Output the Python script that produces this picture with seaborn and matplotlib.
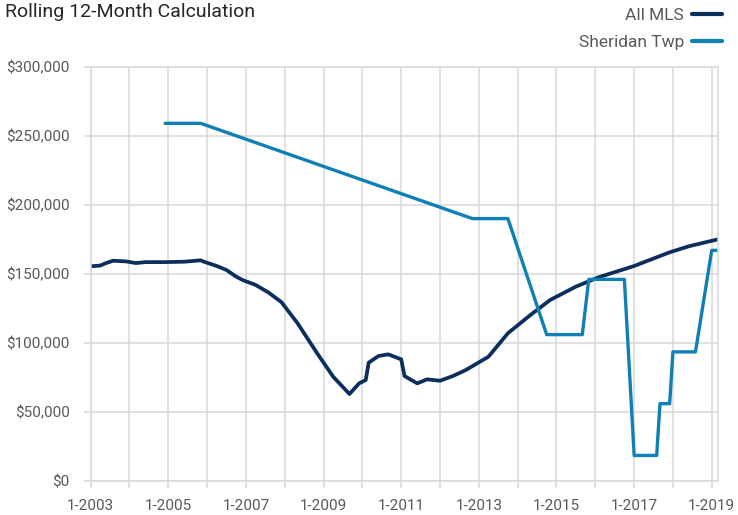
import seaborn as sns
import pandas as pd
import numpy as np
import matplotlib.pyplot as plt
import matplotlib.ticker as ticker

# All MLS rolling 12-month values
mls_dates = ["2003-01", "2003-04", "2003-06", "2003-08", "2003-12", "2004-03",
             "2004-06", "2004-12", "2005-06", "2005-11", "2005-12", "2006-04",
             "2006-07", "2006-10", "2006-12", "2007-04", "2007-08", "2007-12",
             "2008-05", "2008-08", "2008-11", "2009-04", "2009-09", "2009-12",
             "2010-02", "2010-03", "2010-06", "2010-09", "2011-01", "2011-02",
             "2011-06", "2011-09", "2012-01", "2012-05", "2012-09", "2013-04",
             "2013-10", "2014-05", "2014-11", "2015-07", "2016-02", "2017-01",
             "2017-12", "2018-06", "2019-03"]
mls_values = [155500, 156000, 158000, 159500, 159000, 157800,
              158500, 158500, 158800, 159800, 158800, 155700,
              152800, 148000, 145500, 142000, 136500, 129500,
              114200, 103300, 92500, 75500, 63000, 70700,
              73100, 85700, 90500, 91700, 88100, 76000,
              70700, 73600, 72600, 76000, 80400, 90000,
              107000, 120200, 131000, 140700, 147500, 155700,
              165600, 170000, 175000]

# Sheridan Twp
twp_dates = ["2004-12", "2005-11", "2012-11", "2013-10", "2014-10", "2015-09",
             "2015-11", "2016-10", "2017-01", "2017-08", "2017-09", "2017-12",
             "2018-01", "2018-08", "2019-01", "2019-03"]
twp_values = [259000, 259000, 190000, 190000, 106000, 106000,
              146000, 146000, 18500, 18500, 56000, 56000,
              93500, 93500, 167000, 167000]

tick_years = list(range(2003, 2020))

mls_color = "#0c2e5c"
twp_color = "#0f80b5"
grid_color = "#d9d9d9"
text_color = "#595959"

sns.set_theme(style="white")
plt.rcParams['font.family'] = ['Roboto', 'DejaVu Sans']

fig = plt.figure(figsize=(7.38, 5.15), dpi=100)
ax = fig.add_axes([90.7 / 738, 34 / 515, (718 - 90.7) / 738, (481 - 66.7) / 515])

sns.lineplot(x=pd.to_datetime(mls_dates), y=mls_values, color=mls_color,
             linewidth=2.7, label="All MLS", ax=ax)
sns.lineplot(x=pd.to_datetime(twp_dates), y=twp_values, color=twp_color,
             linewidth=2.4, label="Sheridan Twp", ax=ax)

ax.set_xlim(pd.Timestamp("2003-01-01"), pd.Timestamp("2019-03-01"))
ax.set_ylim(0, 300000)
ax.set_yticks(np.arange(0, 300001, 50000))
ax.yaxis.set_major_formatter(ticker.FuncFormatter(lambda v, p: "${:,.0f}".format(v)))
xt = [pd.Timestamp(f"{y}-01-01") for y in tick_years]
ax.set_xticks(xt)
ax.set_xticklabels([f"1-{y}" if (y - 2003) % 2 == 0 else "" for y in tick_years])

ax.grid(True, color=grid_color, linewidth=1.1)
ax.set_axisbelow(True)
for s in ax.spines.values():
    s.set_visible(True)
    s.set_color(grid_color)
    s.set_linewidth(1.1)
ax.tick_params(axis="both", length=5, width=1.1, color=grid_color,
               labelcolor=text_color, labelsize=11)
ax.tick_params(axis="y", pad=10, left=True)
ax.tick_params(axis="x", pad=8, bottom=True)
ax.set_xlabel("")
ax.set_ylabel("")

handles, labels = ax.get_legend_handles_labels()
leg = ax.legend(handles, labels, loc="upper right", bbox_to_anchor=(722 / 738, 1 - 8 / 515),
                bbox_transform=fig.transFigure, frameon=False, markerfirst=False,
                fontsize=12.5, handlelength=1.7, handletextpad=0.5,
                labelspacing=0.65, borderpad=0, borderaxespad=0)
for t in leg.get_texts():
    t.set_color(text_color)
for h in leg.get_lines():
    h.set_linewidth(3)

fig.text(5 / 738, 1 - 3 / 515, "Rolling 12-Month Calculation", ha="left", va="top",
         fontsize=14, color="#262626")

plt.savefig("out.png", dpi=100)
